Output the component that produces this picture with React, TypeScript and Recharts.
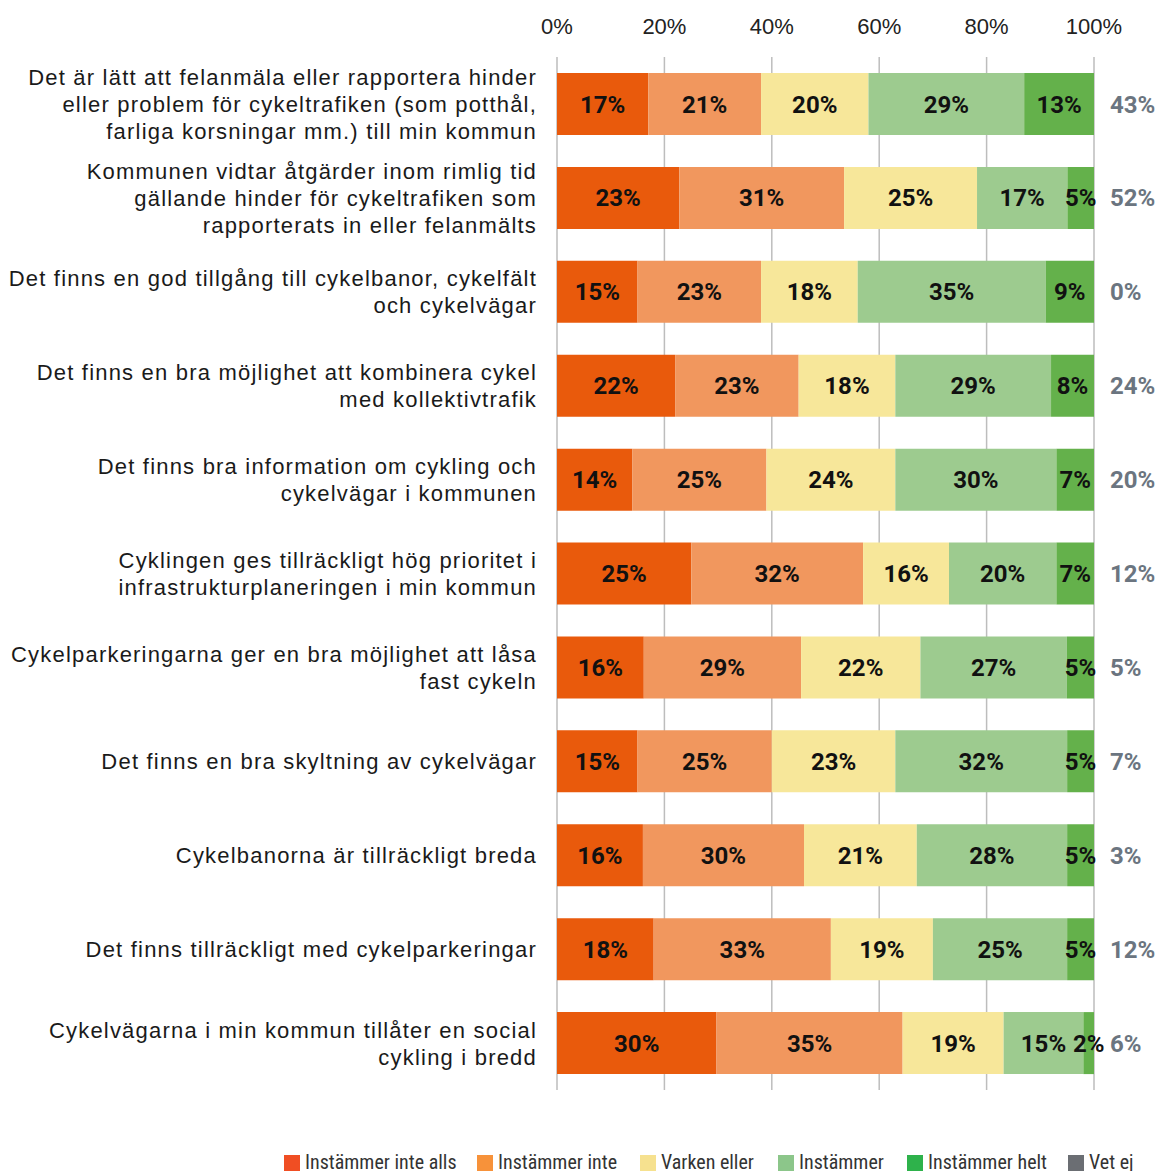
import React from "react";
import { BarChart, Bar, XAxis, YAxis, CartesianGrid, LabelList, Legend } from "recharts";

const categories = [
  "Det är lätt att felanmäla eller rapportera hinder\neller problem för cykeltrafiken (som potthål,\nfarliga korsningar mm.) till min kommun",
  "Kommunen vidtar åtgärder inom rimlig tid\ngällande hinder för cykeltrafiken som\nrapporterats in eller felanmälts",
  "Det finns en god tillgång till cykelbanor, cykelfält\noch cykelvägar",
  "Det finns en bra möjlighet att kombinera cykel\nmed kollektivtrafik",
  "Det finns bra information om cykling och\ncykelvägar i kommunen",
  "Cyklingen ges tillräckligt hög prioritet i\ninfrastrukturplaneringen i min kommun",
  "Cykelparkeringarna ger en bra möjlighet att låsa\nfast cykeln",
  "Det finns en bra skyltning av cykelvägar",
  "Cykelbanorna är tillräckligt breda",
  "Det finns tillräckligt med cykelparkeringar",
  "Cykelvägarna i min kommun tillåter en social\ncykling i bredd",
];

const instammerInteAlls = [17, 23, 15, 22, 14, 25, 16, 15, 16, 18, 30];
const instammerInte = [21, 31, 23, 23, 25, 32, 29, 25, 30, 33, 35];
const varkenEller = [20, 25, 18, 18, 24, 16, 22, 23, 21, 19, 19];
const instammer = [29, 17, 35, 29, 30, 20, 27, 32, 28, 25, 15];
const instammerHelt = [13, 5, 9, 8, 7, 7, 5, 5, 5, 5, 2];
const vetEj = [43, 52, 0, 24, 20, 12, 5, 7, 3, 12, 6];

const xTicks = [0, 0.2, 0.4, 0.6, 0.8, 1];

const seriesNames = ["Instämmer inte alls", "Instämmer inte", "Varken eller", "Instämmer", "Instämmer helt", "Vet ej"];
const barColors = ["#e95a0c", "#f1975e", "#f7e79a", "#9dcb8f", "#64b14b"];
const legendColors = ["#f04e23", "#f7923a", "#f6e18f", "#8cc68a", "#2eb24b", "#6b6e73"];
const legendLeft = [284, 477, 640, 778, 907, 1068];

const data = categories.map((name, i) => ({
  name,
  s1: instammerInteAlls[i],
  s2: instammerInte[i],
  s3: varkenEller[i],
  s4: instammer[i],
  s5: instammerHelt[i],
  vetEj: vetEj[i],
}));

const LABEL_FONT = "Roboto, 'Liberation Sans', sans-serif";
const LEGEND_FONT = "'Liberation Sans Narrow', 'Roboto Condensed', 'DejaVu Sans Condensed', sans-serif";
const TEXT_FONT = "'Liberation Sans', Arial, sans-serif";

const getBox = (p: any) => {
  const vb = p.viewBox || {};
  return {
    x: p.x ?? vb.x,
    y: p.y ?? vb.y,
    width: p.width ?? vb.width,
    height: p.height ?? vb.height,
  };
};

const SegmentLabel = (p: any) => {
  const { x, y, width, height } = getBox(p);
  return (
    <text
      x={x + width / 2}
      y={y + height / 2 + 8.5}
      textAnchor="middle"
      fontFamily={LABEL_FONT}
      fontWeight="bold"
      fontSize={24}
      fill="#111"
    >
      {p.value}%
    </text>
  );
};

const VetEjLabel = (p: any) => {
  const { x, y, width, height } = getBox(p);
  return (
    <text
      x={x + width + 16}
      y={y + height / 2 + 8.5}
      textAnchor="start"
      fontFamily={LABEL_FONT}
      fontWeight="bold"
      fontSize={24}
      fill="#6b7580"
    >
      {p.value}%
    </text>
  );
};

const XTick = (p: any) => (
  <text x={p.x} y={34} textAnchor="middle" fontFamily={TEXT_FONT} fontSize={22} fill="#222">
    {Math.round(p.payload.value * 100)}%
  </text>
);

const YTick = (p: any) => {
  const lines = String(p.payload.value).split("\n");
  const lh = 27;
  const start = p.y - ((lines.length - 1) * lh) / 2;
  return (
    <text textAnchor="end" fontFamily={TEXT_FONT} fontSize={22} letterSpacing={1.2} fill="#1a1a1a">
      {lines.map((l, i) => (
        <tspan key={i} x={537} y={start + i * lh + 8}>
          {l}
        </tspan>
      ))}
    </text>
  );
};

const LegendContent = () => (
  <div style={{ position: "relative", width: 1160, height: 0 }}>
    {seriesNames.map((n, i) => (
      <div
        key={n}
        style={{
          position: "absolute",
          left: legendLeft[i],
          top: 0,
          display: "flex",
          alignItems: "flex-start",
          whiteSpace: "nowrap",
        }}
      >
        <span style={{ display: "inline-block", width: 16, height: 17, background: legendColors[i], marginTop: 5 }} />
        <span
          style={{
            marginLeft: 5,
            fontFamily: LEGEND_FONT,
            fontSize: 20,
            color: "#333",
            lineHeight: "24px",
          }}
        >
          {n}
        </span>
      </div>
    ))}
  </div>
);

export default function App() {
  return (
    <div style={{ position: "absolute", left: 0, top: 0, width: 1160, height: 1171, background: "#fff", overflow: "hidden" }}>
      <BarChart
        width={1160}
        height={1171}
        data={data}
        layout="vertical"
        stackOffset="expand"
        barSize={62}
        margin={{ top: 17, right: 66, bottom: 81, left: 0 }}
      >
        <CartesianGrid horizontal={false} vertical={true} stroke="#bdbdbd" strokeWidth={1.5} />
        <XAxis
          type="number"
          orientation="top"
          domain={[0, 1]}
          ticks={xTicks}
          axisLine={false}
          tickLine={false}
          height={40}
          tick={<XTick />}
        />
        <YAxis
          type="category"
          dataKey="name"
          width={557}
          axisLine={false}
          tickLine={false}
          interval={0}
          tick={<YTick />}
        />
        <Legend
          content={<LegendContent />}
          wrapperStyle={{ position: "absolute", left: 0, top: 1150, width: 1160, height: 0 }}
        />
        <Bar dataKey="s1" stackId="a" fill={barColors[0]} name={seriesNames[0]} isAnimationActive={false}>
          <LabelList dataKey="s1" content={<SegmentLabel />} />
        </Bar>
        <Bar dataKey="s2" stackId="a" fill={barColors[1]} name={seriesNames[1]} isAnimationActive={false}>
          <LabelList dataKey="s2" content={<SegmentLabel />} />
        </Bar>
        <Bar dataKey="s3" stackId="a" fill={barColors[2]} name={seriesNames[2]} isAnimationActive={false}>
          <LabelList dataKey="s3" content={<SegmentLabel />} />
        </Bar>
        <Bar dataKey="s4" stackId="a" fill={barColors[3]} name={seriesNames[3]} isAnimationActive={false}>
          <LabelList dataKey="s4" content={<SegmentLabel />} />
        </Bar>
        <Bar dataKey="s5" stackId="a" fill={barColors[4]} name={seriesNames[4]} isAnimationActive={false}>
          <LabelList dataKey="s5" content={<SegmentLabel />} />
          <LabelList dataKey="vetEj" content={<VetEjLabel />} />
        </Bar>
      </BarChart>
    </div>
  );
}
